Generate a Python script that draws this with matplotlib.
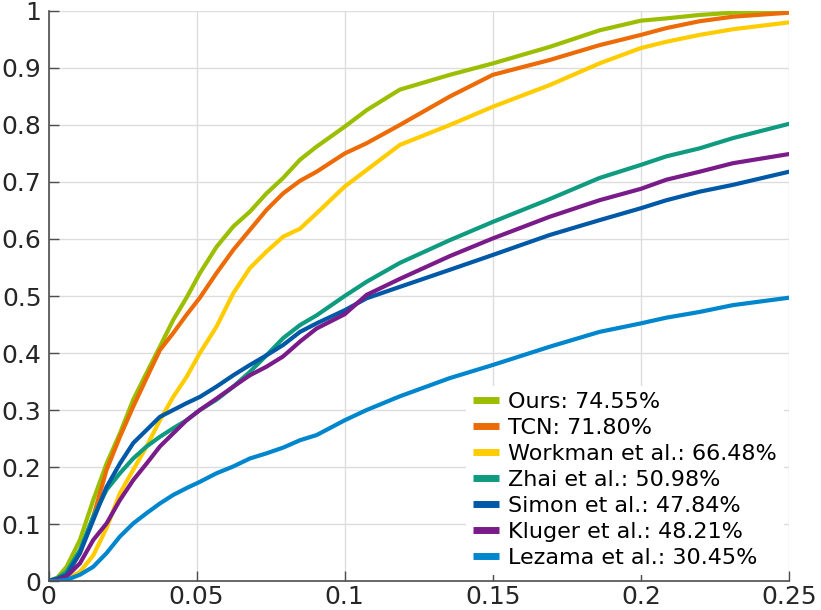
import numpy as np
import matplotlib; matplotlib.use('Agg'); import matplotlib.pyplot as plt

# threshold values sampled along the curves
x = [0, 0.003, 0.0061, 0.0106, 0.0151, 0.0196, 0.0241, 0.0286, 0.0331, 0.0376, 0.0421, 0.0466,
     0.0511, 0.0567, 0.0624, 0.068, 0.0736, 0.0792, 0.0849, 0.0905, 0.1, 0.1074, 0.1186, 0.1355,
     0.15, 0.1692, 0.186, 0.2, 0.2086, 0.2198, 0.2311, 0.25]

ours    = [0, 0.006, 0.025, 0.072, 0.142, 0.206, 0.259, 0.318, 0.365, 0.411, 0.458, 0.497,
           0.540, 0.586, 0.622, 0.648, 0.680, 0.707, 0.739, 0.762, 0.797, 0.826, 0.862, 0.888,
           0.908, 0.937, 0.966, 0.983, 0.987, 0.993, 0.997, 0.999]
tcn     = [0, 0.002, 0.010, 0.049, 0.113, 0.195, 0.253, 0.306, 0.356, 0.405, 0.435, 0.467,
           0.497, 0.540, 0.581, 0.616, 0.651, 0.680, 0.702, 0.718, 0.750, 0.768, 0.800, 0.850,
           0.888, 0.914, 0.940, 0.958, 0.970, 0.982, 0.990, 0.997]
workman = [0, 0.0, 0.003, 0.016, 0.045, 0.093, 0.154, 0.195, 0.236, 0.282, 0.323, 0.358,
           0.400, 0.446, 0.505, 0.549, 0.578, 0.604, 0.618, 0.645, 0.692, 0.721, 0.765, 0.800,
           0.832, 0.870, 0.908, 0.935, 0.946, 0.958, 0.968, 0.980]
zhai    = [0, 0.005, 0.016, 0.054, 0.113, 0.160, 0.189, 0.215, 0.236, 0.253, 0.268, 0.282,
           0.300, 0.318, 0.341, 0.367, 0.396, 0.426, 0.449, 0.466, 0.500, 0.525, 0.558, 0.598,
           0.630, 0.670, 0.707, 0.730, 0.745, 0.759, 0.777, 0.802]
simon   = [0, 0.004, 0.011, 0.049, 0.107, 0.165, 0.206, 0.242, 0.265, 0.288, 0.300, 0.312,
           0.323, 0.341, 0.361, 0.379, 0.396, 0.414, 0.437, 0.452, 0.475, 0.496, 0.516, 0.546,
           0.572, 0.607, 0.633, 0.654, 0.668, 0.683, 0.695, 0.718]
kluger  = [0, 0.002, 0.008, 0.031, 0.072, 0.101, 0.142, 0.177, 0.206, 0.236, 0.259, 0.282,
           0.300, 0.320, 0.341, 0.361, 0.376, 0.394, 0.420, 0.443, 0.468, 0.502, 0.530, 0.570,
           0.601, 0.639, 0.668, 0.688, 0.704, 0.718, 0.733, 0.749]
lezama  = [0, 0.0, 0.002, 0.011, 0.025, 0.049, 0.078, 0.101, 0.119, 0.136, 0.151, 0.163,
           0.174, 0.189, 0.201, 0.215, 0.224, 0.234, 0.247, 0.256, 0.282, 0.300, 0.324, 0.356,
           0.379, 0.411, 0.437, 0.452, 0.462, 0.472, 0.484, 0.497]

labels = ['Ours: 74.55%', 'TCN: 71.80%', 'Workman et al.: 66.48%', 'Zhai et al.: 50.98%',
          'Simon et al.: 47.84%', 'Kluger et al.: 48.21%', 'Lezama et al.: 30.45%']
series = [ours, tcn, workman, zhai, simon, kluger, lezama]
colors = ['#9bbf00', '#ed6b06', '#ffcc00', '#0f9b80', '#0059a6', '#7a1b8a', '#0086cc']

txt = '#262626'
fig = plt.figure(figsize=(8.21, 6.10), dpi=100)
ax = fig.add_axes([0.0591, 0.0475, 0.9019, 0.9345])
for ys, c, l in zip(series, colors, labels):
    ax.plot(x, ys, color=c, lw=3.0, label=l, solid_joinstyle='round')
ax.set_xlim(0, 0.25); ax.set_ylim(0, 1)
ax.set_xticks([0, 0.05, 0.1, 0.15, 0.2, 0.25]); ax.set_xticklabels(['0', '0.05', '0.1', '0.15', '0.2', '0.25'])
ax.set_yticks(np.round(np.arange(0, 1.01, 0.1), 1))
ax.set_yticklabels(['0'] + [f'{v:.1f}' for v in np.arange(0.1, 0.95, 0.1)] + ['1'])
ax.grid(color='#dddddd', lw=1.0)
ax.set_axisbelow(True)
for s in ('top', 'right'): ax.spines[s].set_visible(False)
for s in ('left', 'bottom'): ax.spines[s].set_color('#4d4d4d'); ax.spines[s].set_linewidth(1.2)
ax.tick_params(direction='in', length=7, width=1.0, color='#4d4d4d', labelsize=18, labelcolor=txt)
ax.tick_params(axis='x', pad=3); ax.tick_params(axis='y', pad=5)
leg = ax.legend(loc='lower right', bbox_to_anchor=(0.993, 0.0107), borderaxespad=0, fontsize=16,
                frameon=True, fancybox=False, framealpha=1, edgecolor='none', facecolor='white',
                handlelength=1.2, handletextpad=0.4, labelspacing=0.27, borderpad=0.3)
for t in leg.get_texts(): t.set_color('black')
for h in leg.get_lines(): h.set_linewidth(5); h.set_solid_capstyle('butt')
fig.savefig('out.png', dpi=100)
